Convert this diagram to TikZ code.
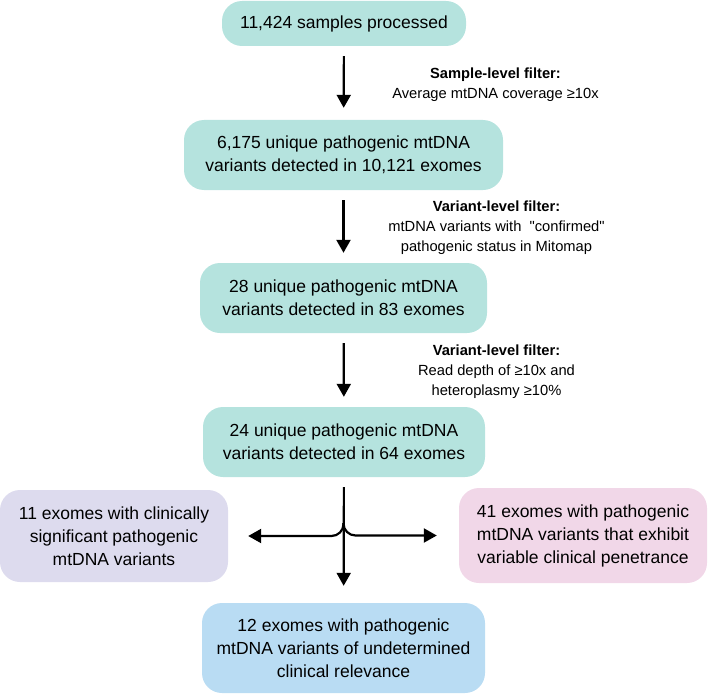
\documentclass[tikz,border=0pt]{standalone}
\usepackage{fontspec}
\setmainfont{Liberation Sans}
\usepackage{xcolor}
\usepackage{tikz}
\usetikzlibrary{positioning, arrows.meta, shapes}

\definecolor{tealbox}{HTML}{B5E3DE}
\definecolor{lilacbox}{HTML}{DDDBEE}
\definecolor{pinkbox}{HTML}{F1D7E8}
\definecolor{bluebox}{HTML}{B9DCF3}

\tikzset{
  stage/.style={fill=tealbox, rounded corners=20bp, align=center, inner sep=0pt,
    font=\fontsize{17.5bp}{23bp}\selectfont},
  filtertext/.style={align=center, inner sep=0pt, font=\fontsize{14.7bp}{20bp}\selectfont},
  flow/.style={line width=2.2bp, -{Triangle[width=14bp,length=13bp]}, shorten <=10bp, shorten >=10bp}
}

\begin{document}
\begin{tikzpicture}[x=1bp, y=-1bp]
    \useasboundingbox (0,0) rectangle (709,695);
    % main stages
    \node [stage, minimum width=244bp, minimum height=45bp] (samples) at (344,23.5) {11,424 samples processed};
    \node [stage, minimum width=319bp, minimum height=70bp] (unique) at (343.5,155) {6,175 unique pathogenic mtDNA\\variants detected in 10,121 exomes};
    \node [stage, minimum width=287bp, minimum height=70bp] (confirmed) at (343.5,298) {28 unique pathogenic mtDNA\\variants detected in 83 exomes};
    \node [stage, minimum width=282bp, minimum height=70bp] (filtered) at (344,442) {24 unique pathogenic mtDNA\\variants detected in 64 exomes};
    % outcomes
    \node [stage, fill=lilacbox, minimum width=228bp, minimum height=92bp] (clinical) at (114,536) {11 exomes with clinically\\significant pathogenic\\mtDNA variants};
    \node [stage, fill=pinkbox, minimum width=248bp, minimum height=95bp] (variable) at (583,535.5) {41 exomes with pathogenic\\mtDNA variants that exhibit\\variable clinical penetrance};
    \node [stage, fill=bluebox, minimum width=283bp, minimum height=90bp] (unclear) at (343.5,648) {12 exomes with pathogenic\\mtDNA variants of undetermined\\clinical relevance};
    % filters
    \node [filtertext] (samplefilter) at (495.5,85) {\textbf{Sample-level filter:}\\Average mtDNA coverage ≥10x};
    \node [filtertext] (mitomapfilter) at (496.5,228) {\textbf{Variant-level filter:}\\mtDNA variants with\ \ \textquotedbl confirmed\textquotedbl\\pathogenic status in Mitomap};
    \node [filtertext] (depthfilter) at (496.5,372) {\textbf{Variant-level filter:}\\Read depth of ≥10x and\\heteroplasmy ≥10\%};

    \draw [flow, shorten >=12bp] (samples) -- (unique);
    \draw [flow] (unique) -- (confirmed);
    \draw [flow] (confirmed) -- (filtered);
    \draw [flow, shorten >=17bp] (filtered) -- (unclear);
    \coordinate (fork) at (343.5,523);
    \draw [flow, shorten <=0bp, shorten >=20bp, rounded corners=12bp] (fork) |- (clinical);
    \draw [flow, shorten <=0bp, shorten >=22bp, rounded corners=12bp] (fork) |- (variable);
  \end{tikzpicture}
\end{document}
